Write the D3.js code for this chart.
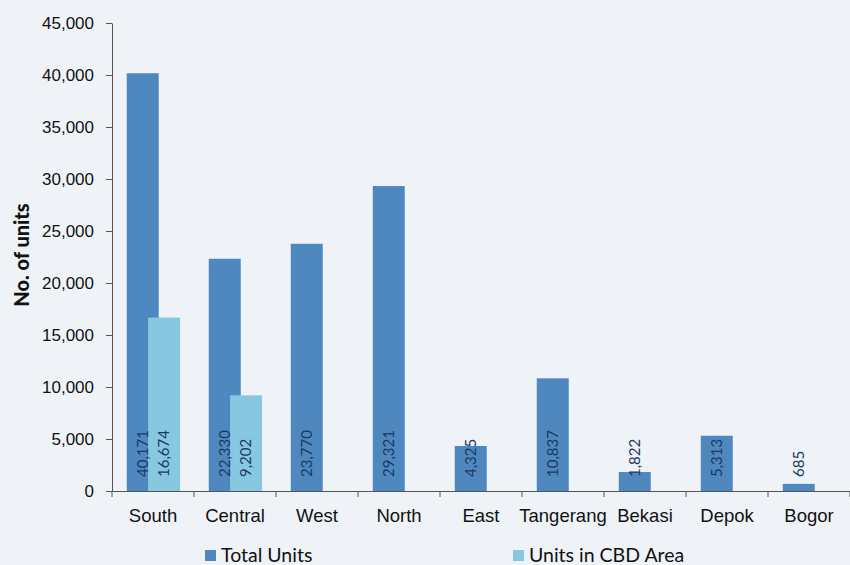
<!DOCTYPE html>
<html>
<head>
<meta charset="utf-8">
<script src="https://cdn.jsdelivr.net/npm/d3@7"></script>
<style>
  body { margin: 0; background: #eff3f7; }
  svg { display: block; font-family: Lato, "Open Sans", sans-serif; }
</style>
</head>
<body>
<script>
const regions = ["South", "Central", "West", "North", "East", "Tangerang", "Bekasi", "Depok", "Bogor"];
const totalUnits = [40171, 22330, 23770, 29321, 4325, 10837, 1822, 5313, 685];
const cbdUnits = [16674, 9202, null, null, null, null, null, null, null];
const yTicks = [0, 5000, 10000, 15000, 20000, 25000, 30000, 35000, 40000, 45000];
const seriesNames = ["Total Units", "Units in CBD Area"];

const width = 850, height = 565;
const margin = {left: 112, right: 0, top: 23, bottom: 74};
const colors = ["#4f88be", "#87c8e0"];

const svg = d3.select("body").append("svg")
    .attr("width", width)
    .attr("height", height);

svg.append("rect").attr("width", width).attr("height", height).attr("fill", "#eff3f7");

const x = d3.scaleBand()
    .domain(regions)
    .range([margin.left, width - margin.right]);

const y = d3.scaleLinear()
    .domain([0, 45000])
    .range([height - margin.bottom, margin.top]);

const bw = x.bandwidth();
const barW = bw * 0.39;
const offsets = [bw * 0.18, bw * 0.44];

// bars
const series = [totalUnits, cbdUnits];
series.forEach((vals, s) => {
    svg.append("g").selectAll("rect")
        .data(regions.map((r, i) => ({r: r, v: vals[i]})).filter(d => d.v != null))
        .enter().append("rect")
        .attr("x", d => x(d.r) + offsets[s])
        .attr("y", d => y(d.v))
        .attr("width", barW)
        .attr("height", d => y(0) - y(d.v))
        .attr("fill", colors[s]);
});

// value labels
series.forEach((vals, s) => {
    svg.append("g").selectAll("text")
        .data(regions.map((r, i) => ({r: r, v: vals[i]})).filter(d => d.v != null))
        .enter().append("text")
        .attr("transform", d => "translate(" + (x(d.r) + offsets[s] + barW / 2 + 5) + "," + (y(0) - 14) + ") rotate(-90)")
        .attr("text-anchor", "start")
        .attr("font-size", 15)
        .attr("fill", "#1a3a63")
        .text(d => d3.format(",")(d.v));
});

// y axis
const yAxis = d3.axisLeft(y).tickValues(yTicks).tickFormat(d3.format(",")).tickSize(6).tickSizeOuter(0);
const gy = svg.append("g")
    .attr("transform", "translate(" + margin.left + ",0)")
    .call(yAxis);
gy.select(".domain").attr("stroke", "#555");
gy.selectAll(".tick line").attr("stroke", "#555");
gy.selectAll(".tick text").attr("font-size", 17).attr("fill", "#111").attr("x", -18);

// x axis
const xAxis = d3.axisBottom(x).tickSize(0).tickSizeOuter(0);
const gx = svg.append("g")
    .attr("transform", "translate(0," + y(0) + ")")
    .call(xAxis);
gx.select(".domain").attr("stroke", "#555");
gx.selectAll(".tick text").attr("font-size", 18.5).attr("fill", "#111").attr("dy", "1.5em");
gx.selectAll(".sep")
    .data(regions.concat(["end"]))
    .enter().append("line")
    .attr("x1", (d, i) => margin.left + i * bw)
    .attr("x2", (d, i) => margin.left + i * bw)
    .attr("y1", 0).attr("y2", 6)
    .attr("stroke", "#555");

// y axis title
svg.append("text")
    .attr("transform", "translate(29,255) rotate(-90)")
    .attr("text-anchor", "middle")
    .attr("font-size", 20)
    .attr("font-weight", "900")
    .attr("fill", "#111")
    .text("No. of units");

// legend
const legendX = [205, 513];
const leg = svg.append("g").selectAll("g")
    .data(seriesNames)
    .enter().append("g")
    .attr("transform", (d, i) => "translate(" + legendX[i] + ",550)");
leg.append("rect").attr("width", 11).attr("height", 11).attr("fill", (d, i) => colors[i]);
leg.append("text")
    .attr("x", 16).attr("y", 12)
    .attr("font-size", 19.5)
    .attr("fill", "#111")
    .text(d => d);
</script>
</body>
</html>
